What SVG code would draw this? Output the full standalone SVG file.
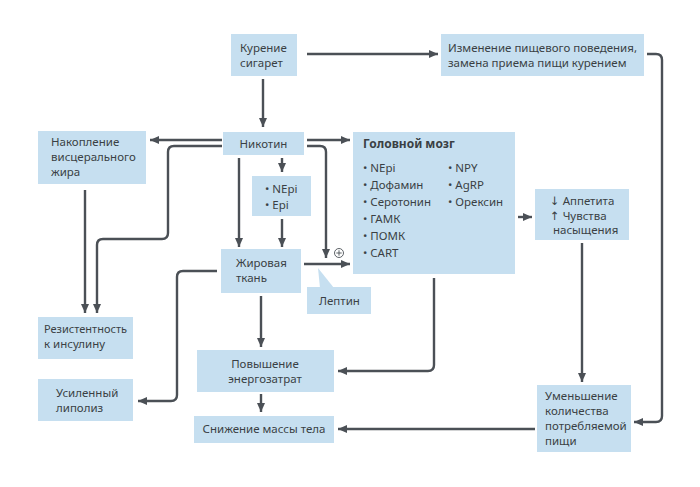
<svg xmlns="http://www.w3.org/2000/svg" width="700" height="487" viewBox="0 0 700 487">
<defs>
<style>
.box{fill:#c6dff0;}
.t{font-family:"Noto Sans","DejaVu Sans",sans-serif;font-size:11.5px;fill:#3a3f44;}
.b{font-weight:bold;font-size:12px;}
.c{fill:none;stroke:#4b5056;stroke-width:2.4;stroke-linejoin:round;}
</style>
<marker id="ah" markerUnits="userSpaceOnUse" markerWidth="10" markerHeight="8" refX="9" refY="4" orient="auto">
<path d="M0,0 L9,4 L0,8 z" fill="#4b5056"/>
</marker>
</defs>
<rect width="700" height="487" fill="#ffffff"/>

<g id="connectors">
<path class="c" d="M263,79 V127" marker-end="url(#ah)"/>
<path class="c" d="M307,54 H438" marker-end="url(#ah)"/>
<path class="c" d="M647,54 H656 Q662,54 662,60 V416 Q662,422 656,422 H634" marker-end="url(#ah)"/>
<path class="c" d="M222,140 H150" marker-end="url(#ah)"/>
<path class="c" d="M222,146 H174 Q168,146 168,152 V233 Q168,239 162,239 H103 Q97,239 97,245 V313" marker-end="url(#ah)"/>
<path class="c" d="M85,190 V313" marker-end="url(#ah)"/>
<path class="c" d="M282,158 V172" marker-end="url(#ah)"/>
<path class="c" d="M282,219 V247" marker-end="url(#ah)"/>
<path class="c" d="M239,158 V247" marker-end="url(#ah)"/>
<path class="c" d="M307,140 H350" marker-end="url(#ah)"/>
<path class="c" d="M307,146 H320 Q326,146 326,152 V258" marker-end="url(#ah)"/>
<path class="c" d="M304,264 H350" marker-end="url(#ah)"/>
<path class="c" d="M217,271 H183 Q177,271 177,277 V395 Q177,401 171,401 H138" marker-end="url(#ah)"/>
<path class="c" d="M261,296 V347" marker-end="url(#ah)"/>
<path class="c" d="M261,394 V412" marker-end="url(#ah)"/>
<path class="c" d="M518,217 H532" marker-end="url(#ah)"/>
<path class="c" d="M434,278 V365 Q434,371 428,371 H338" marker-end="url(#ah)"/>
<path class="c" d="M582,243 V382" marker-end="url(#ah)"/>
<path class="c" d="M535,429 H338" marker-end="url(#ah)"/>
<circle cx="339" cy="253" r="4.5" fill="#ffffff" stroke="#4b5056" stroke-width="0.9"/>
<path d="M336.3,253 H341.7 M339,250.3 V255.7" stroke="#4b5056" stroke-width="0.9"/>
</g>

<g id="kurenie">
<rect class="box" x="231" y="34" width="66" height="42"/>
<text class="t" x="240" y="52">Курение</text>
<text class="t" x="240" y="67">сигарет</text>
</g>

<g id="izmenenie">
<rect class="box" x="441" y="34" width="203" height="42"/>
<text class="t" x="448" y="52">Изменение пищевого поведения,</text>
<text class="t" x="448" y="67">замена приема пищи курением</text>
</g>

<g id="nikotin">
<rect class="box" x="223" y="132" width="81" height="23"/>
<text class="t" x="263.5" y="148" text-anchor="middle">Никотин</text>
</g>

<g id="nakoplenie">
<rect class="box" x="38" y="131" width="108" height="53"/>
<text class="t" x="51" y="146">Накопление</text>
<text class="t" x="51" y="161">висцерального</text>
<text class="t" x="51" y="176">жира</text>
</g>

<g id="nepi">
<rect class="box" x="252" y="176" width="59" height="40"/>
<text class="t" x="265" y="193">• NEpi</text>
<text class="t" x="265" y="209">• Epi</text>
</g>

<g id="mozg">
<rect class="box" x="353" y="132" width="162" height="142"/>
<text class="t b" x="363" y="148">Головной мозг</text>
<text class="t" x="363" y="172">• NEpi</text>
<text class="t" x="363" y="189">• Дофамин</text>
<text class="t" x="363" y="206">• Серотонин</text>
<text class="t" x="363" y="223">• ГАМК</text>
<text class="t" x="363" y="240">• ПОМК</text>
<text class="t" x="363" y="257">• CART</text>
<text class="t" x="448" y="172">• NPY</text>
<text class="t" x="448" y="189">• AgRP</text>
<text class="t" x="448" y="206">• Орексин</text>
</g>

<g id="appetit">
<rect class="box" x="535" y="189" width="94" height="51"/>
<text class="t" x="550" y="205">↓ Аппетита</text>
<text class="t" x="550" y="220">↑ Чувства</text>
<text class="t" x="553" y="234">насыщения</text>
</g>

<g id="zhirovaya">
<rect class="box" x="221" y="249" width="80" height="44"/>
<text class="t" x="236" y="267">Жировая</text>
<text class="t" x="236" y="282">ткань</text>
</g>

<g id="leptin">
<path class="box" d="M318,268 L320,288 L334,288 Z"/>
<rect class="box" x="307" y="287" width="64" height="27"/>
<text class="t" x="319" y="305">Лептин</text>
</g>

<g id="rezistentnost">
<rect class="box" x="38" y="317" width="95" height="42"/>
<text class="t" x="44" y="333" textLength="83" lengthAdjust="spacingAndGlyphs">Резистентность</text>
<text class="t" x="44" y="348">к инсулину</text>
</g>

<g id="lipoliz">
<rect class="box" x="38" y="379" width="95" height="42"/>
<text class="t" x="56" y="397">Усиленный</text>
<text class="t" x="56" y="412">липолиз</text>
</g>

<g id="povyshenie">
<rect class="box" x="197" y="350" width="137" height="42"/>
<text class="t" x="265" y="368" text-anchor="middle">Повышение</text>
<text class="t" x="265" y="383" text-anchor="middle">энергозатрат</text>
</g>

<g id="snizhenie">
<rect class="box" x="194" y="416" width="140" height="27"/>
<text class="t" x="264" y="433" text-anchor="middle">Снижение массы тела</text>
</g>

<g id="umenshenie">
<rect class="box" x="537" y="385" width="94" height="67"/>
<text class="t" x="545" y="400">Уменьшение</text>
<text class="t" x="545" y="415">количества</text>
<text class="t" x="545" y="430">потребляемой</text>
<text class="t" x="545" y="445">пищи</text>
</g>
</svg>
